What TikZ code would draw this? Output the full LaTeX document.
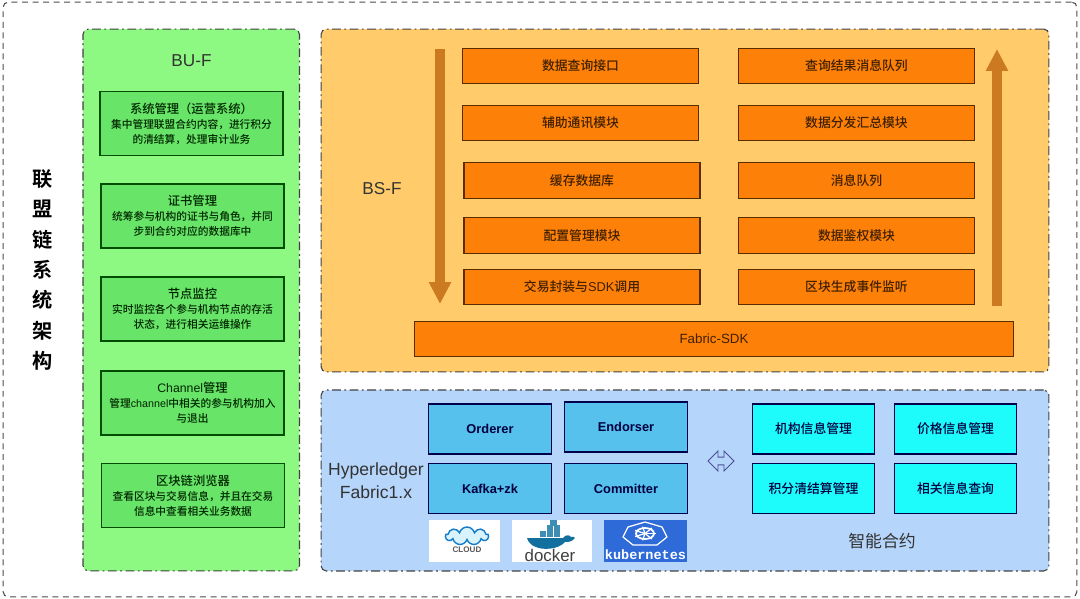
\documentclass[tikz,border=0pt]{standalone}
\usepackage{fontspec}
\setmainfont{Noto Sans CJK SC}[BoldFont={Noto Sans CJK SC Medium}]
\newfontfamily\heavy{Noto Sans CJK SC Bold}
\newfontfamily\lat{Liberation Sans}
\newfontfamily\latm{Liberation Mono}
\usepackage{xcolor}
\usetikzlibrary{arrows.meta,shapes.arrows,shapes.symbols}
\definecolor{gpanel}{HTML}{8DF982}
\definecolor{gbox}{HTML}{68E468}
\definecolor{opanel}{HTML}{FFCB6B}
\definecolor{obox}{HTML}{FD8008}
\definecolor{bpanel}{HTML}{B5D5FB}
\definecolor{bbox}{HTML}{56C1EC}
\definecolor{cbox}{HTML}{1EFBFB}
\definecolor{fatbrown}{HTML}{CB7A22}
\definecolor{whale}{HTML}{12709F}
\definecolor{crate}{HTML}{3D8DB5}
\definecolor{kblue}{HTML}{2F6BD8}
\tikzstyle{outer}	=[draw=black!70,line width=0.6pt,rounded corners=3pt,dash pattern=on 3.4pt off 2.6pt,minimum width=21.48cm,minimum height=11.9cm,inner sep=0pt]
\tikzstyle{panel}	=[draw=black!75,line width=0.6pt,rounded corners=3pt,dash pattern=on 5pt off 2pt on 1pt off 2pt,inner sep=0pt]
\tikzstyle{gbox}	=[draw=green!30!black,fill=gbox,line width=0.6pt,minimum width=3.66cm,minimum height=1.28cm,inner sep=0pt,align=center,font=\fontsize{6.1}{8.5}\selectfont\bfseries,text=green!15!black]
\tikzstyle{obox}	=[draw=black!65!orange,fill=obox,line width=0.6pt,minimum width=4.72cm,minimum height=0.71cm,inner sep=0pt,font=\fontsize{7.3}{9}\selectfont\bfseries,text=black!75!orange]
\tikzstyle{bbox}	=[draw=blue!30!black,fill=bbox,line width=0.6pt,minimum width=2.45cm,minimum height=1cm,inner sep=0pt,font=\fontsize{7.3}{9}\selectfont\lat\bfseries,text=black!75!blue]
\tikzstyle{cbox}	=[bbox,fill=cbox,font=\fontsize{7.3}{9}\selectfont\bfseries]
\tikzstyle{logo}	=[fill=white,inner sep=0pt,minimum height=0.84cm]
\tikzstyle{crate}	=[fill=crate,inner sep=0pt,minimum width=0.13cm,minimum height=0.11cm]
\tikzstyle{com2}	=[inner sep=0pt,text=black!80]
\tikzstyle{edgefat}	=[draw=fatbrown,line width=5.6pt,-{Triangle[width=0.42cm,length=0.44cm]}]
\begin{document}
\begin{tikzpicture}[x=0.02cm,y=-0.02cm]
	\useasboundingbox (0,0) rectangle (1080,599);
	
	%%%%% Panels
	\node[outer] (frame) at (540,299.5) {};
	\node[panel,fill=gpanel,minimum width=4.33cm,minimum height=10.84cm] (bu) at (191.25,300) {};
	\node[panel,fill=opanel,minimum width=14.56cm,minimum height=6.86cm] (bs) at (685,200.5) {};
	\node[panel,fill=bpanel,minimum width=14.56cm,minimum height=3.62cm] (hl) at (685,480.5) {};
	
	%%%%% Free labels
	\node[com2,align=center,font=\fontsize{11.5}{17.3}\selectfont\heavy,text=black] (title) at (43,270) {联\\盟\\链\\系\\统\\架\\构};
	\node[com2,font=\fontsize{9.8}{12}\selectfont\lat] (buf) at (191.5,61) {BU-F};
	\node[com2,font=\fontsize{9.8}{12}\selectfont\lat] (bsf) at (382,189) {BS-F};
	\node[com2,align=center,font=\fontsize{10}{13}\selectfont\lat] (fab) at (376,481) {Hyperledger\\Fabric1.x};
	\node[com2,font=\fontsize{9.6}{12}\selectfont] (sc) at (882,541) {智能合约};
	
	%%%%% BU-F modules
	\foreach \pos/\name/\head/\desc in {{(191.5,123.5)/g1/系统管理（运营系统）/集中管理联盟合约内容，进行积分\\的清结算，处理审计业务}, {(192.5,216)/g2/证书管理/统筹参与机构的证书与角色，并同\\步到合约对应的数据库中}, {(192.5,309)/g3/节点监控/实时监控各个参与机构节点的存活\\状态，进行相关运维操作}, {(192.5,403)/g4/{\lat\mdseries Channel}管理/管理{\lat\mdseries channel}中相关的参与机构加入\\与退出}, {(193,495.5)/g5/区块链浏览器/查看区块与交易信息，并且在交易\\信息中查看相关业务数据}}
	\node[gbox] (\name) at \pos {{\fontsize{7}{8.5}\selectfont \head}\\\desc};
	
	%%%%% BS-F modules
	\foreach \pos/\name/\txt in {{(580.5,66)/o1/数据查询接口}, {(580.5,123)/o2/辅助通讯模块}, {(582,180.5)/o3/缓存数据库}, {(582,235.5)/o4/配置管理模块}, {(582,287)/o5/交易封装与{\lat\mdseries SDK}调用}, {(856.5,66)/o6/查询结果消息队列}, {(856.5,123)/o7/数据分发汇总模块}, {(856.5,180.5)/o8/消息队列}, {(856.5,235.5)/o9/数据鉴权模块}, {(856.5,287)/o10/区块生成事件监听}}
	\node[obox] (\name) at \pos {\txt};
	\node[obox,minimum width=12cm,font=\fontsize{7.6}{9}\selectfont\lat] (sdk) at (714,339) {Fabric-SDK};
	
	%%%%% Fabric peers
	\foreach \pos/\name/\txt in {{(490,429)/b1/Orderer}, {(626,427)/b2/Endorser}, {(490,488.75)/b3/Kafka+zk}, {(626,488.5)/b4/Committer}}
	\node[bbox] (\name) at \pos {\txt};
	
	%%%%% Contracts
	\foreach \pos/\name/\txt in {{(813.5,429)/c1/机构信息管理}, {(955.5,429)/c2/价格信息管理}, {(813.5,488.5)/c3/积分清结算管理}, {(955.5,488.5)/c4/相关信息查询}}
	\node[cbox] (\name) at \pos {\txt};
	
	\node[double arrow,draw=blue!40!black!70,line width=0.5pt,inner sep=1.4pt,minimum height=0.52cm,minimum width=0.4cm,double arrow head extend=2.6pt] (link) at (721,461) {};
	
	%%%% Fat arrows
	\coordinate (dn1) at (440,49);
	\coordinate (dn2) at (440,304);
	\coordinate (up1) at (997,306);
	\coordinate (up2) at (997,49);
	\path[edgefat] (dn1) -- (dn2);
	\path[edgefat] (up1) -- (up2);
	
	%%%% Logos
	\node[logo,minimum width=1.44cm] (cloud) at (464.5,541) {};
	\node[logo,minimum width=1.6cm] (docker) at (552,541) {};
	\node[logo,fill=kblue,minimum width=1.68cm] (kube) at (645.5,540.5) {};
	
	\node[cloud,draw=cyan!60!blue,fill=cyan!15,line width=0.8pt,cloud puffs=9,aspect=2.4,minimum width=0.86cm,minimum height=0.36cm,inner sep=0pt] (puff) at (467,536) {};
	\node[com2,font=\fontsize{4.6}{5}\selectfont\lat\bfseries,text=black!65] (cloudtxt) at (467,550) {CLOUD};
	
	\foreach \pos/\name in {{(543,534)/k1}, {(550,534)/k2}, {(557,534)/k3}, {(550,528)/k4}, {(557,528)/k5}, {(553.5,523)/k6}}
	\node[crate] (\name) at \pos {};
	\fill[whale] (527,538) -- (563,538) .. controls (566,534) and (570,535) .. (571,537) .. controls (573,536) and (575,537) .. (575,538) .. controls (572,542) and (568,542) .. (565,542) .. controls (558,550) and (542,550) .. (536,547) .. controls (532,546) and (528,542) .. (527,538) -- cycle;
	\node[com2,font=\fontsize{9.6}{11}\selectfont\lat,text=black!75] (dockertxt) at (550,555) {docker};
	
	\draw[white,line width=0.7pt,line join=round] (645,522) -- (662,527) -- (667,537) -- (657,545) -- (633,545) -- (623,537) -- (628,527) -- cycle;
	\draw[white,line width=1pt] (645,533.5) ellipse (9 and 5.5);
	\foreach \a in {0,51.4,102.8,154.3,205.7,257.1,308.6}
	\draw[white,line width=0.7pt] (645,533.5) -- ++(\a:11 and 7);
	\node[com2,font=\fontsize{7.7}{9}\selectfont\latm\bfseries,text=white] (kubetxt) at (645.5,555) {kubernetes};
\end{tikzpicture}
\end{document}
